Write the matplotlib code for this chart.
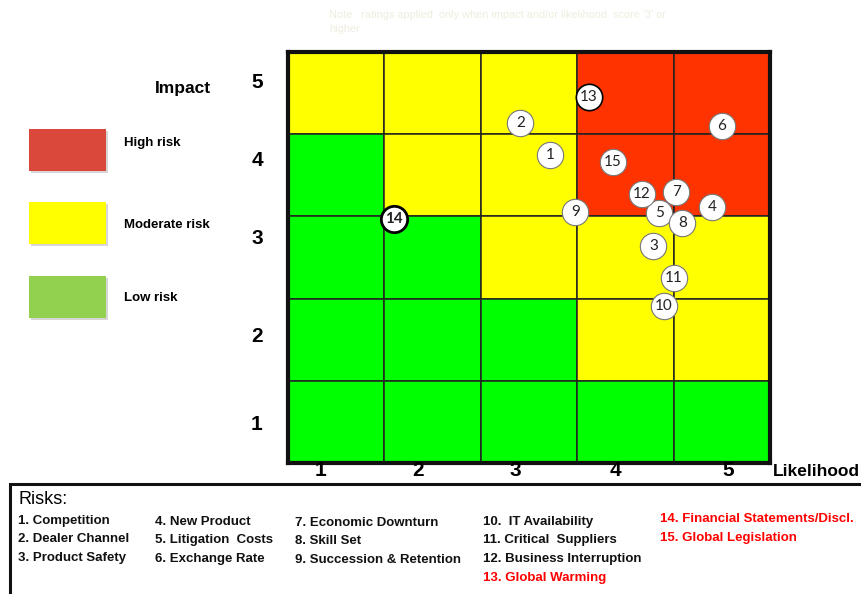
import matplotlib.pyplot as plt
from matplotlib.patches import Rectangle

plt.rcParams['font.family'] = ['Liberation Sans', 'DejaVu Sans']

W, H = 861, 594

# Heat map levels per cell, rows from impact 5 (top) down to 1
levels = [
    ['M', 'M', 'M', 'H', 'H'],
    ['L', 'M', 'M', 'H', 'H'],
    ['L', 'L', 'M', 'M', 'M'],
    ['L', 'L', 'L', 'M', 'M'],
    ['L', 'L', 'L', 'L', 'L'],
]
cell_colors = {'H': '#FF3300', 'M': '#FFFF00', 'L': '#00FF00'}

# Risk positions in grid units (likelihood, impact), 0..5 across the grid
risk_ids = [1, 2, 3, 4, 5, 6, 7, 8, 9, 10, 11, 12, 13, 14, 15]
risk_x = [2.72, 2.41, 3.79, 4.40, 3.85, 4.50, 4.03, 4.09, 2.98, 3.90, 4.00, 3.67, 3.12, 1.10, 3.37]
risk_y = [3.75, 4.14, 2.64, 3.11, 3.04, 4.10, 3.30, 2.92, 3.05, 1.91, 2.25, 3.27, 4.45, 2.97, 3.66]

risk_names = [
    'Competition', 'Dealer Channel', 'Product Safety', 'New Product',
    'Litigation  Costs', 'Exchange Rate', 'Economic Downturn', 'Skill Set',
    'Succession & Retention', ' IT Availability', 'Critical  Suppliers',
    'Business Interruption', 'Global Warming', 'Financial Statements/Discl.',
    'Global Legislation',
]
highlighted = [13, 14, 15]

impact_ticks = ['5', '4', '3', '2', '1']
likelihood_ticks = ['1', '2', '3', '4', '5']

legend_labels = ['High risk', 'Moderate risk', 'Low risk']
legend_colors = ['#D9483A', '#FFFF00', '#92D050']


def fx(px):
    return px / W


def fy(py):
    return 1 - py / H


fig = plt.figure(figsize=(W / 100, H / 100), dpi=100)

# --- grid ---
gx0, gx1, gy0, gy1 = 288, 770, 52, 463
ax = fig.add_axes([fx(gx0), fy(gy1), fx(gx1 - gx0), (gy1 - gy0) / H])
ax.set_xlim(0, 5)
ax.set_ylim(0, 5)
for r, row in enumerate(levels):
    for c, lv in enumerate(row):
        ax.add_patch(Rectangle((c, 4 - r), 1, 1, facecolor=cell_colors[lv],
                               edgecolor='#222222', linewidth=1.1))
for s in ax.spines.values():
    s.set_linewidth(3)
    s.set_color('#111111')
ax.set_xticks([])
ax.set_yticks([])

num_font = ['Lato', 'Liberation Sans']
for rid, x, y in zip(risk_ids, risk_x, risk_y):
    if rid == 14:
        ec, lw, wt = 'black', 2.0, 'bold'
    elif rid == 13:
        ec, lw, wt = 'black', 1.2, 'normal'
    else:
        ec, lw, wt = '#777777', 0.8, 'normal'
    ax.scatter([x], [y], s=360, facecolor='white', edgecolor=ec, linewidth=lw,
               zorder=5, clip_on=False)
    ax.text(x, y, str(rid), ha='center', va='center', fontsize=11,
            fontweight=wt, family=num_font, zorder=6, color='#222222')

# --- axis numbers and titles ---
impact_py = [82, 161, 238, 336, 424]
for t, py in zip(impact_ticks, impact_py):
    fig.text(fx(257), fy(py), t, ha='center', va='center', fontsize=15,
             fontweight='bold')
like_px = [320, 418, 515, 615, 728]
for t, px in zip(likelihood_ticks, like_px):
    fig.text(fx(px), fy(470), t, ha='center', va='center', fontsize=15,
             fontweight='bold')
fig.text(fx(183), fy(88), 'Impact', ha='center', va='center', fontsize=12.5,
         fontweight='bold')
fig.text(fx(773), fy(471), 'Likelihood', ha='left', va='center', fontsize=12.5,
         fontweight='bold')

# --- note ---
fig.text(fx(329), fy(15), "Note:  ratings applied  only when impact and/or likelihood  score '3' or",
         ha='left', va='center', fontsize=7.8, color='#EFEDDD')
fig.text(fx(329), fy(29), 'higher', ha='left', va='center', fontsize=7.8, color='#EFEDDD')

# --- legend ---
leg_py = [129, 202, 276]
label_py = [143, 225, 298]
for lab, col, py, lpy in zip(legend_labels, legend_colors, leg_py, label_py):
    fig.patches.append(Rectangle((fx(31), fy(py + 44)), fx(77), 42 / H,
                                 transform=fig.transFigure, facecolor='#BBBBBB',
                                 edgecolor='none', alpha=0.6))
    fig.patches.append(Rectangle((fx(29), fy(py + 42)), fx(77), 42 / H,
                                 transform=fig.transFigure, facecolor=col,
                                 edgecolor='none'))
    fig.text(fx(124), fy(lpy), lab, ha='left', va='center', fontsize=9.5,
             fontweight='bold')

# --- risk list box ---
fig.patches.append(Rectangle((fx(10), fy(600)), fx(900), (600 - 484) / H,
                             transform=fig.transFigure, facecolor='white',
                             edgecolor='#111111', linewidth=2.2))
fig.text(fx(18), fy(499), 'Risks:', ha='left', va='center', fontsize=13)

col_px = [18, 155, 295, 483, 660]
col_members = [[1, 2, 3], [4, 5, 6], [7, 8, 9], [10, 11, 12, 13], [14, 15]]
col_py0 = [521, 522, 523, 522, 519]
for px, members, py0 in zip(col_px, col_members, col_py0):
    for k, rid in enumerate(members):
        color = '#FF0000' if rid in highlighted else '#111111'
        fig.text(fx(px), fy(py0 + k * 18.5), f'{rid}. {risk_names[rid - 1]}',
                 ha='left', va='center', fontsize=9.5, fontweight='bold', color=color)

fig.savefig('out.png', dpi=100)
